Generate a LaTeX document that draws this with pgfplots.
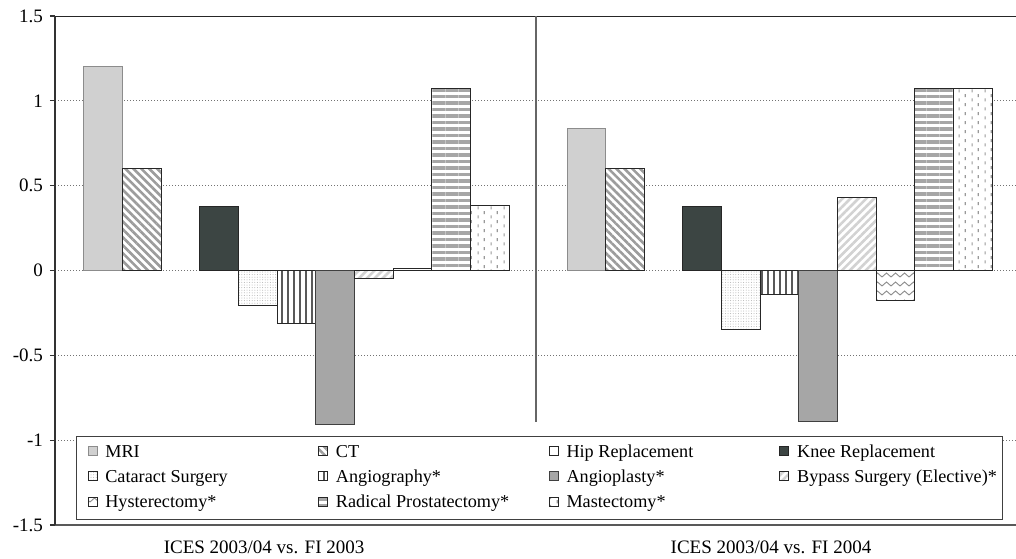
\documentclass[border=0pt]{standalone}
\usepackage{fontspec}
\setmainfont{Liberation Serif}
\usepackage{pgfplots}
\pgfplotsset{compat=1.18}
\usetikzlibrary{patterns.meta}

\definecolor{mri}{HTML}{D0D0D0}
\definecolor{knee}{HTML}{3C4543}
\definecolor{angiopl}{HTML}{A6A6A6}
\definecolor{stripe}{HTML}{9C9C9C}
\definecolor{lightstripe}{HTML}{D2D2D2}

% zigzag for hysterectomy
\pgfdeclarepattern{
  name=waves, type=uncolored,
  bottom left={\pgfpoint{-0.5pt}{-0.5pt}},
  top right={\pgfpoint{5pt}{5pt}},
  tile size={\pgfpoint{4.5pt}{4.5pt}},
  code={
    \pgfsetlinewidth{0.45pt}
    \pgfpathmoveto{\pgfpoint{0pt}{1pt}}
    \pgfpathlineto{\pgfpoint{2.25pt}{3pt}}
    \pgfpathlineto{\pgfpoint{4.5pt}{1pt}}
    \pgfusepath{stroke}
  }
}
% staggered vertical dashes for mastectomy
\pgfdeclarepattern{
  name=vdashes, type=uncolored,
  bottom left={\pgfpoint{0pt}{0pt}},
  top right={\pgfpoint{6.6pt}{4.6pt}},
  tile size={\pgfpoint{6.6pt}{4.6pt}},
  code={
    \pgfsetlinewidth{0.65pt}
    \pgfpathmoveto{\pgfpoint{1.65pt}{0.3pt}}
    \pgfpathlineto{\pgfpoint{1.65pt}{2.0pt}}
    \pgfpathmoveto{\pgfpoint{4.95pt}{2.6pt}}
    \pgfpathlineto{\pgfpoint{4.95pt}{4.3pt}}
    \pgfusepath{stroke}
  }
}

\newcommand{\lgA}[1]{\makebox[103.3pt][l]{\hspace{2.4pt}#1}}
\newcommand{\lgB}[1]{\hspace{2.4pt}#1}

\begin{document}
\begin{tikzpicture}
  \pgfplotsset{
    boxlegend/.style={
        /pgfplots/legend image code/.code={
            \path (-4pt,0pt);
            \draw[##1,/tikz/.cd,bar shift=0pt] (0pt,-1.45pt) rectangle (4.5pt,3.05pt);
          },
      },
  }
  \begin{axis}[
      scale only axis,
      width=480.5pt, height=254.5pt,
      xmin=-0.75, xmax=24.12,
      ymin=-1.5, ymax=1.5,
      enlargelimits=false,
      axis x line*=bottom, axis y line*=left,
      x axis line style={-, black!65, line width=0.9pt},
      y axis line style={-, black!80, line width=0.7pt},
      ytick={-1.5,-1,-0.5,0,0.5,1,1.5},
      yticklabels={-1.5,-1,-0.5,0,0.5,1,1.5},
      xtick={4.66,17.78},
      xticklabels={ICES 2003/04 vs. FI 2003, ICES 2003/04 vs. FI 2004},
      major x tick style={draw=none},
      major y tick style={black!80, line width=0.6pt},
      tick align=outside, major tick length=2.5pt,
      xticklabel style={yshift=-2pt},
      tick label style={font=\fontsize{9.5}{11}\selectfont},
      ymajorgrids,
      major grid style={black!55, line width=0.5pt, dash pattern=on 0.5pt off 1pt},
      every axis plot/.append style={ybar, bar width=1, bar shift=0pt, draw=black!85, line width=0.5pt},
      every axis plot post/.append style={boxlegend},
      legend columns=4,
      legend cell align=left,
      legend style={at={(0.0219,0.0098)}, anchor=south west,
          font=\fontsize{9.1}{11}\selectfont,
          draw=black!75, line width=0.5pt, fill=white,
          inner xsep=1.5pt, inner ysep=1.8pt,
          nodes={inner xsep=1.5pt, inner ysep=1.5pt, text height=7.2pt, text depth=2.5pt}},
    ]
    \addplot[fill=mri, draw=black!45] coordinates {(0.5,1.2) (13,0.835)};
    \addlegendentry{\lgA{MRI}}
    \addplot[fill=white, postaction={pattern={Lines[angle=-45,distance=2.8pt,line width=1.3pt]}, pattern color=stripe}] coordinates {(1.5,0.6) (14,0.6)};
    \addlegendentry{\lgA{CT}}
    \addlegendimage{boxlegend, fill=white, draw=black!85, line width=0.5pt}
    \addlegendentry{\lgA{Hip Replacement}}
    \addplot[fill=knee] coordinates {(3.5,0.378) (16,0.378)};
    \addlegendentry{\lgB{Knee Replacement}}
    \addplot[fill=white, postaction={pattern={Dots[distance=1.3pt,radius=0.25pt]}, pattern color=black!30}] coordinates {(4.5,-0.207) (17,-0.347)};
    \addlegendentry{\lgA{Cataract Surgery}}
    \addplot[fill=white, postaction={pattern={Lines[angle=90,distance=3pt,line width=0.55pt]}, pattern color=black!65}] coordinates {(5.5,-0.314) (18,-0.142)};
    \addlegendentry{\lgA{Angiography*}}
    \addplot[fill=angiopl, draw=black!75] coordinates {(6.5,-0.91) (19,-0.89)};
    \addlegendentry{\lgA{Angioplasty*}}
    \addplot[fill=white, postaction={pattern={Lines[angle=45,distance=2.8pt,line width=1.3pt]}, pattern color=lightstripe}] coordinates {(7.5,-0.045) (20,0.433)};
    \addlegendentry{\lgB{Bypass Surgery (Elective)*}}
    \addplot[fill=white, postaction={pattern=waves, pattern color=black!45}] coordinates {(8.5,0.012) (21,-0.178)};
    \addlegendentry{\lgA{Hysterectomy*}}
    \addplot[fill=white, postaction={pattern={Lines[angle=0,distance=3.25pt,line width=1.7pt]}, pattern color=black!35}] coordinates {(9.5,1.07) (22,1.07)};
    \addlegendentry{\lgA{Radical Prostatectomy*}}
    \addplot[fill=white, postaction={pattern=vdashes, pattern color=black!40}] coordinates {(10.5,0.382) (23,1.07)};
    \addlegendentry{\lgA{Mastectomy*}}

    \draw[black!85, line width=0.8pt] (rel axis cs:0,1) -- (rel axis cs:1,1);
    \draw[black!60, line width=0.8pt] (axis cs:11.7,1.5) -- (axis cs:11.7,-0.89);
  \end{axis}
  \pgfresetboundingbox
  \path[use as bounding box] ([xshift=-27.5pt,yshift=-16.5pt]current axis.south west) rectangle ([yshift=8pt]current axis.north east);
\end{tikzpicture}
\end{document}
